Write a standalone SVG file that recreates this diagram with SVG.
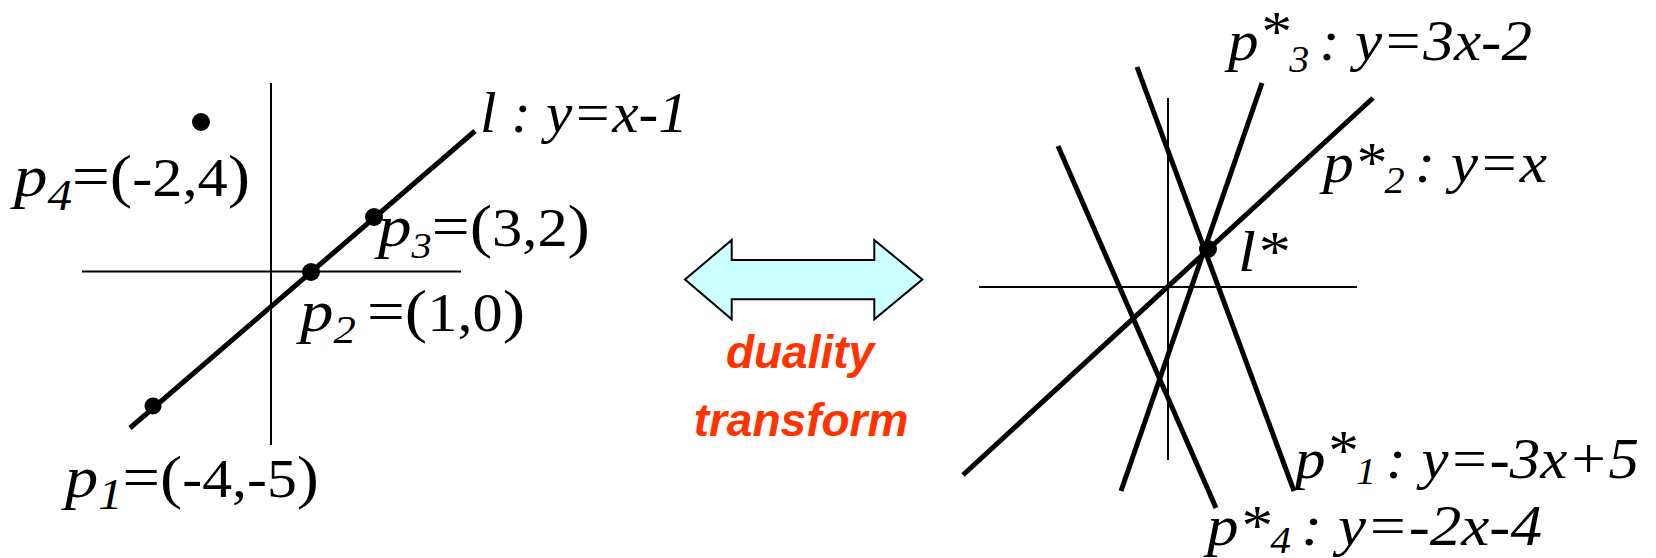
<svg xmlns="http://www.w3.org/2000/svg" width="1656" height="558" viewBox="0 0 1656 558">
<style>
.bg{fill:#fff}
.axis{stroke:#000;stroke-width:2;fill:none}
.thick{stroke:#000;stroke-width:5;fill:none}
.dot{fill:#000}
.t{font-family:"Liberation Serif","Times New Roman",serif;font-size:60px;fill:#000}
.r{font-size:58px}
.n{font-size:54px}
.i{font-style:italic}
.red{font-family:"Liberation Sans",Arial,sans-serif;font-size:46px;font-weight:bold;font-style:italic;fill:#FF3300;text-anchor:middle}
.arrow{fill:#CCFFFF;stroke:#000;stroke-width:2;stroke-linejoin:miter}
</style>
<rect class="bg" x="0" y="0" width="1656" height="558"/>

<g id="left-plot">
  <g id="left-axes">
    <line class="axis" x1="271" y1="83" x2="271" y2="445"/>
    <line class="axis" x1="82" y1="271.5" x2="461" y2="271.5"/>
  </g>
  <g id="connectors">
    <line id="line-l" class="thick" x1="130" y1="428" x2="475" y2="131"/>
  </g>
  <g id="p4"><circle class="dot" cx="201" cy="122" r="9"/>
    <text class="t" x="14" y="196" textLength="236" lengthAdjust="spacingAndGlyphs"><tspan class="i">p</tspan><tspan class="i" font-size="44" dy="14">4</tspan><tspan dy="-14">=(</tspan><tspan class="n">-2,4</tspan>)</text>
  </g>
  <g id="p3"><circle class="dot" cx="374" cy="217" r="9"/>
    <text class="t" x="378" y="246" textLength="212" lengthAdjust="spacingAndGlyphs"><tspan class="i">p</tspan><tspan class="i" font-size="36" dy="12">3</tspan><tspan dy="-12">=(</tspan><tspan class="n">3,2</tspan>)</text>
  </g>
  <g id="p2"><circle class="dot" cx="311" cy="272" r="9"/>
    <text class="t" x="300" y="331" textLength="225" lengthAdjust="spacingAndGlyphs"><tspan class="i">p</tspan><tspan class="i" font-size="40" dy="12">2&#160;</tspan><tspan dy="-12">=(</tspan><tspan class="n">1,0</tspan>)</text>
  </g>
  <g id="p1"><circle class="dot" cx="153" cy="406" r="8.5"/>
    <text class="t" x="65" y="497" textLength="254" lengthAdjust="spacingAndGlyphs"><tspan class="i">p</tspan><tspan class="i" font-size="44" dy="12">1</tspan><tspan dy="-12">=(</tspan><tspan class="n">-4,-5</tspan>)</text>
  </g>
  <g id="label-l">
    <text class="t r i" x="480" y="132" textLength="208" lengthAdjust="spacingAndGlyphs">l&#160;:&#160;y=x-1</text>
  </g>
</g>

<g id="duality-arrow">
  <polygon class="arrow" points="685,279.5 731.7,240 731.7,260 874.3,260 874.3,240 922.3,279.5 874.3,319.3 874.3,299.3 731.7,299.3 731.7,319.3"/>
  <text class="red" x="800" y="368">duality</text>
  <text class="red" x="801" y="436">transform</text>
</g>

<g id="right-plot">
  <g id="right-axes">
    <line class="axis" x1="1168" y1="98" x2="1168" y2="460"/>
    <line class="axis" x1="979" y1="287" x2="1357" y2="287"/>
  </g>
  <g id="dual-lines">
    <line id="p2star" class="thick" x1="1373" y1="98" x2="963" y2="475"/>
    <line id="p3star" class="thick" x1="1262" y1="83" x2="1121" y2="491"/>
    <line id="p1star" class="thick" x1="1137" y1="67" x2="1294" y2="491"/>
    <line id="p4star" class="thick" x1="1058" y1="146" x2="1216" y2="508"/>
  </g>
  <g id="lstar"><circle class="dot" cx="1208" cy="249" r="9"/>
    <text class="t r i" x="1238" y="271" textLength="50" lengthAdjust="spacingAndGlyphs">l*</text>
  </g>
  <g id="label-p3star">
    <text class="t r i" x="1228" y="60" textLength="304" lengthAdjust="spacingAndGlyphs">p<tspan dy="-9">*</tspan><tspan font-size="38" dy="21">3&#160;</tspan><tspan dy="-12">:&#160;y=3x-2</tspan></text>
  </g>
  <g id="label-p2star">
    <text class="t r i" x="1323" y="182" textLength="224" lengthAdjust="spacingAndGlyphs">p*<tspan font-size="38" dy="11">2&#160;</tspan><tspan dy="-11">:&#160;y=x</tspan></text>
  </g>
  <g id="label-p1star">
    <text class="t r i" x="1295" y="478" textLength="344" lengthAdjust="spacingAndGlyphs">p<tspan dy="-8">*</tspan><tspan font-size="38" dy="14">1&#160;</tspan><tspan dy="-6">:&#160;y=-3x+5</tspan></text>
  </g>
  <g id="label-p4star">
    <text class="t r i" x="1207" y="545" textLength="335" lengthAdjust="spacingAndGlyphs">p*<tspan font-size="38" dy="8">4&#160;</tspan><tspan dy="-8">:&#160;y=-2x-4</tspan></text>
  </g>
</g>
</svg>
